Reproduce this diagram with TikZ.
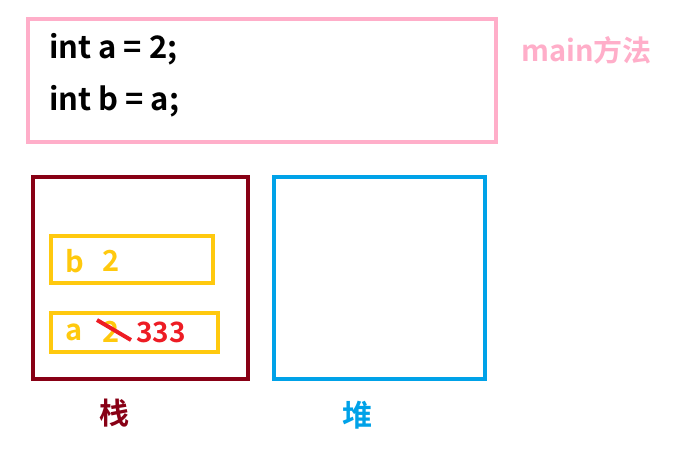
\documentclass[tikz,border=0pt]{standalone}
\usepackage{fontspec}
\setmainfont{Noto Sans CJK SC}[BoldFont={Noto Sans CJK SC Bold}]
\definecolor{fenhong}{HTML}{FFAEC9}
\definecolor{zanhong}{HTML}{880015}
\definecolor{tianlan}{HTML}{00A2E8}
\definecolor{jinhuang}{HTML}{FFC90E}
\definecolor{dahong}{HTML}{ED1C24}
\begin{document}
\begin{tikzpicture}[x=1pt,y=-1pt]
\tikzset{kuang/.style={draw, line width=4pt, inner sep=0pt, anchor=north west},
  zi/.style={font=\bfseries\fontsize{31}{36}\selectfont, anchor=west, inner sep=0pt}}
\useasboundingbox (0,0) rectangle (698,465);
\node[kuang, fenhong, minimum width=468pt, minimum height=123pt] (M) at (26,17) {};
\node[kuang, zanhong, minimum width=215pt, minimum height=202pt] (S) at (31,175) {};
\node[kuang, tianlan, minimum width=211pt, minimum height=202pt] (H) at (272,175) {};
\node[kuang, jinhuang, minimum width=162pt, minimum height=47pt] (B) at (49,234) {};
\node[kuang, jinhuang, minimum width=167pt, minimum height=39pt] (A) at (49,311) {};
\node[zi] (L1) at (49,49) {int a = 2;};
\node[zi] (L2) at (49,101) {int b = a;};
\node[zi, fenhong, font=\bfseries\fontsize{29}{34}\selectfont] (MT) at (521,50) {main方法};
\node[zi, jinhuang, font=\bfseries\fontsize{29}{34}\selectfont] (Bn) at (65,261) {b};
\node[zi, jinhuang, font=\bfseries\fontsize{29}{34}\selectfont] (Bv) at (102,261) {2};
\node[zi, jinhuang, font=\bfseries\fontsize{29}{34}\selectfont] (An) at (65,332) {a};
\node[zi, jinhuang, font=\bfseries\fontsize{29}{34}\selectfont] (Av) at (102,332) {2};
\node[zi, dahong, font=\bfseries\fontsize{28}{32}\selectfont] (Ax) at (136,332) {333};
\coordinate (X1) at (97,320);
\coordinate (X2) at (131,340);
\draw[dahong, line width=4pt] (X1) -- (X2);
\node[zi, zanhong, font=\bfseries\fontsize{30}{34}\selectfont] (SN) at (99,413) {栈};
\node[zi, tianlan, font=\bfseries\fontsize{30}{34}\selectfont] (HN) at (342,415) {堆};
\end{tikzpicture}
\end{document}
